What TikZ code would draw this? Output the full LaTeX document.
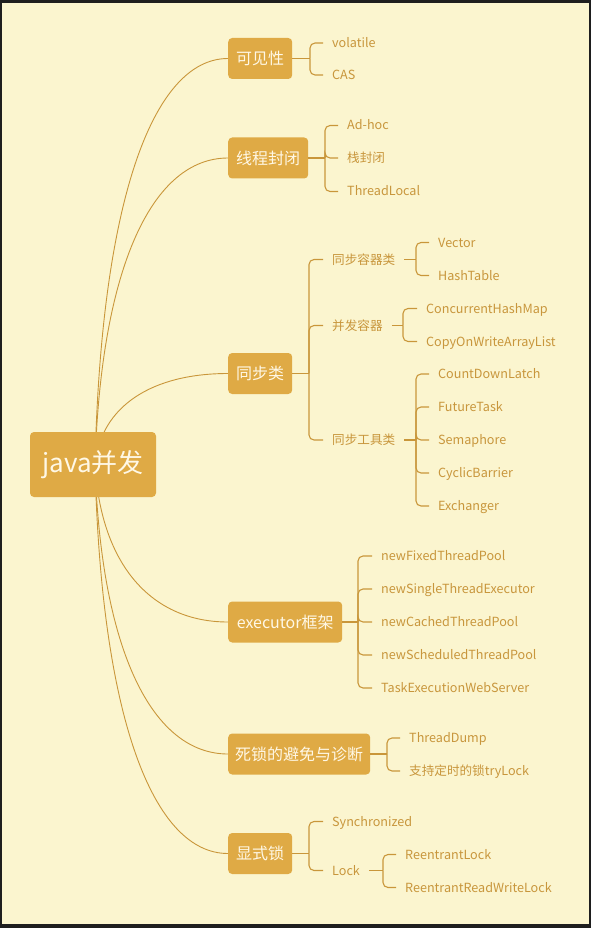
\documentclass[tikz,border=0pt]{standalone}
\usepackage{fontspec}
\setmainfont{Noto Sans CJK SC}
\usetikzlibrary{calc}
\definecolor{bgc}{HTML}{FBF5CF}
\definecolor{framec}{HTML}{1E1E1E}
\definecolor{boxc}{HTML}{DFAA45}
\definecolor{boxtxt}{HTML}{FFF8E6}
\definecolor{leafc}{HTML}{C8963C}
\definecolor{linec}{HTML}{C9963A}
\pgfdeclarelayer{back}
\pgfdeclarelayer{mid}
\pgfsetlayers{back,mid,main}
\begin{document}
\begin{tikzpicture}[x=1pt,y=-1pt,
  topic/.style={fill=boxc, rounded corners=4pt, text=boxtxt, font=\fontsize{16}{19}\selectfont, minimum height=41pt, inner xsep=0pt, inner ysep=0pt, anchor=west},
  leaf/.style={text=leafc, font=\fontsize{12.6}{15}\selectfont, inner xsep=9pt, inner ysep=1pt, text height=1em, text depth=0.1em, anchor=west},
  curve/.style={draw=linec, line width=0.9pt},
  brk/.style={draw=linec, line width=1.1pt, rounded corners=5pt},
]
\useasboundingbox (0,0) rectangle (591,928);
\begin{pgfonlayer}{back}
\fill[framec] (0,0) rectangle (591,928);
\fill[bgc] (2,3) rectangle (589,924);
\end{pgfonlayer}

\node[fill=boxc, rounded corners=4pt, text=boxtxt, font=\fontsize{26}{30}\selectfont, minimum width=126pt, minimum height=65pt, inner sep=0pt] (main) at (93,464.5) {java并发};

\node[topic, minimum width=64pt] (t1) at (228,58.5) {可见性};
\node[topic, minimum width=80pt] (t2) at (228,158) {线程封闭};
\node[topic, minimum width=64pt] (t3) at (228,373.5) {同步类};
\node[topic, minimum width=114pt] (t4) at (228,622) {executor框架};
\node[topic, minimum width=142pt] (t5) at (228,754) {死锁的避免与诊断};
\node[topic, minimum width=64pt] (t6) at (228,853.5) {显式锁};

\coordinate (S) at ($(main.center)+(2,0)$);
\begin{pgfonlayer}{mid}
\foreach \t in {t1,t2,t3,t4,t5,t6}
  \draw[curve] (S) .. controls ($(S)!0.65!(S|-\t.west)+(6,0)$) and ($(S|-\t.west)+(58,0)$) .. (\t.west);
\end{pgfonlayer}

% 可见性
\coordinate (j1) at (310,58.5);
\node[leaf] (l11) at (323,43) {volatile};
\node[leaf] (l12) at (323,75) {CAS};
\draw[brk] (t1.east) -- (j1);
\foreach \l in {l11,l12} \draw[brk] (j1) |- (\l.west);

% 线程封闭
\coordinate (j2) at (325,158);
\node[leaf] (l21) at (338,125.5) {Ad-hoc};
\node[leaf] (l22) at (338,158) {栈封闭};
\node[leaf] (l23) at (338,191.5) {ThreadLocal};
\draw[brk] (t2.east) -- (j2);
\foreach \l in {l21,l22,l23} \draw[brk] (j2) |- (\l.west);

% 同步类
\coordinate (j3) at (309,373.5);
\node[leaf] (s1) at (323,259.5) {同步容器类};
\node[leaf] (s2) at (323,325.5) {并发容器};
\node[leaf] (s3) at (323,440) {同步工具类};
\draw[brk] (t3.east) -- (j3);
\foreach \l in {s1,s2,s3} \draw[brk] (j3) |- (\l.west);

\coordinate (j31) at (416,259.5);
\node[leaf] (v1) at (429,242.5) {Vector};
\node[leaf] (v2) at (429,275.5) {HashTable};
\draw[brk] (s1.east) -- (j31);
\foreach \l in {v1,v2} \draw[brk] (j31) |- (\l.west);

\coordinate (j32) at (403,325.5);
\node[leaf] (c1) at (417,308.5) {ConcurrentHashMap};
\node[leaf] (c2) at (417,341.5) {CopyOnWriteArrayList};
\draw[brk] (s2.east) -- (j32);
\foreach \l in {c1,c2} \draw[brk] (j32) |- (\l.west);

\coordinate (j33) at (416,440);
\node[leaf] (u1) at (429,374) {CountDownLatch};
\node[leaf] (u2) at (429,407) {FutureTask};
\node[leaf] (u3) at (429,440) {Semaphore};
\node[leaf] (u4) at (429,473) {CyclicBarrier};
\node[leaf] (u5) at (429,506) {Exchanger};
\draw[brk] (s3.east) -- (j33);
\foreach \l in {u1,u2,u3,u4,u5} \draw[brk] (j33) |- (\l.west);

% executor
\coordinate (j4) at (358,622);
\node[leaf] (e1) at (372,556) {newFixedThreadPool};
\node[leaf] (e2) at (372,589) {newSingleThreadExecutor};
\node[leaf] (e3) at (372,622) {newCachedThreadPool};
\node[leaf] (e4) at (372,655) {newScheduledThreadPool};
\node[leaf] (e5) at (372,688) {TaskExecutionWebServer};
\draw[brk] (t4.east) -- (j4);
\foreach \l in {e1,e2,e3,e4,e5} \draw[brk] (j4) |- (\l.west);

% 死锁
\coordinate (j5) at (387,754);
\node[leaf] (d1) at (400,738) {ThreadDump};
\node[leaf] (d2) at (400,771) {支持定时的锁tryLock};
\draw[brk] (t5.east) -- (j5);
\foreach \l in {d1,d2} \draw[brk] (j5) |- (\l.west);

% 显式锁
\coordinate (j6) at (309,853.5);
\node[leaf] (x1) at (323,821.5) {Synchronized};
\node[leaf] (x2) at (323,870.5) {Lock};
\draw[brk] (t6.east) -- (j6);
\foreach \l in {x1,x2} \draw[brk] (j6) |- (\l.west);

\coordinate (j61) at (383,870.5);
\node[leaf] (r1) at (396,854.5) {ReentrantLock};
\node[leaf] (r2) at (396,887.5) {ReentrantReadWriteLock};
\draw[brk] (x2.east) -- (j61);
\foreach \l in {r1,r2} \draw[brk] (j61) |- (\l.west);
\end{tikzpicture}
\end{document}
